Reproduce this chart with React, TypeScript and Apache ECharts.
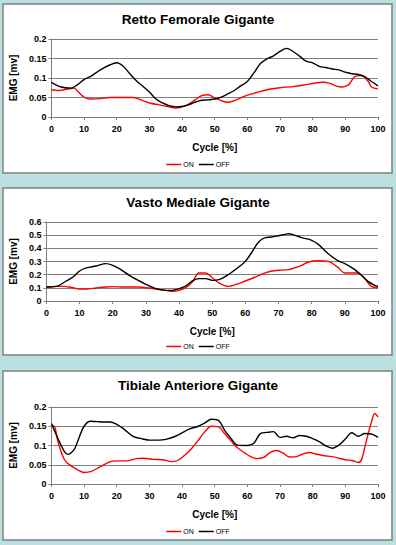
import React, { useEffect, useRef } from "react";
import * as echarts from "echarts";

const titles = ["Retto Femorale Gigante", "Vasto Mediale Gigante", "Tibiale Anteriore Gigante"];
const legendNames = ["ON", "OFF"];
const xTitle = "Cycle [%]";
const yTitle = "EMG [mv]";

// Retto Femorale
const rfOffX = [0, 3, 6, 8, 10, 12, 15, 18, 20, 22, 24, 26, 28, 30, 32, 34, 36, 38, 40, 42, 44, 46, 48, 50, 52, 54, 56, 58, 60, 62, 64, 66, 68, 70, 72, 74, 76, 78, 80, 82, 84, 86, 88, 90, 92, 94, 96, 98, 100];
const rfOffY = [0.089, 0.077, 0.074, 0.083, 0.096, 0.104, 0.121, 0.134, 0.139, 0.13, 0.111, 0.093, 0.079, 0.064, 0.046, 0.036, 0.029, 0.026, 0.027, 0.031, 0.038, 0.043, 0.044, 0.046, 0.051, 0.059, 0.068, 0.08, 0.091, 0.113, 0.137, 0.149, 0.157, 0.168, 0.176, 0.168, 0.156, 0.143, 0.139, 0.13, 0.127, 0.123, 0.121, 0.115, 0.111, 0.109, 0.103, 0.091, 0.08];
const rfOnX = [0, 2, 4, 6, 7, 8, 10, 12, 15, 18, 20, 22, 25, 28, 30, 33, 36, 38, 40, 42, 44, 46, 48, 50, 52, 54, 56, 58, 60, 63, 66, 70, 74, 78, 80, 83, 85, 87, 89, 91, 93, 95, 97, 98, 100];
const rfOnY = [0.07, 0.068, 0.07, 0.073, 0.074, 0.066, 0.051, 0.046, 0.047, 0.05, 0.05, 0.05, 0.05, 0.042, 0.036, 0.031, 0.026, 0.023, 0.026, 0.033, 0.044, 0.055, 0.057, 0.049, 0.042, 0.038, 0.042, 0.049, 0.056, 0.063, 0.07, 0.075, 0.078, 0.083, 0.086, 0.089, 0.087, 0.08, 0.077, 0.083, 0.104, 0.106, 0.091, 0.077, 0.072];

// Vasto Mediale
const vmOffX = [0, 3, 6, 8, 10, 12, 15, 18, 20, 22, 25, 28, 30, 33, 36, 38, 40, 42, 44, 46, 48, 50, 52, 55, 58, 60, 62, 64, 66, 68, 70, 72, 73, 75, 77, 80, 82, 85, 88, 90, 93, 95, 97, 99, 100];
const vmOffY = [0.106, 0.111, 0.152, 0.182, 0.228, 0.251, 0.266, 0.284, 0.271, 0.246, 0.195, 0.152, 0.127, 0.094, 0.081, 0.081, 0.094, 0.114, 0.152, 0.17, 0.17, 0.157, 0.162, 0.203, 0.258, 0.301, 0.372, 0.448, 0.481, 0.486, 0.496, 0.506, 0.511, 0.499, 0.481, 0.461, 0.43, 0.359, 0.304, 0.284, 0.238, 0.195, 0.149, 0.119, 0.111];
const vmOnX = [0, 3, 5, 8, 10, 12, 15, 18, 20, 23, 26, 28, 30, 33, 36, 38, 40, 42, 44, 46, 48, 50, 52, 55, 57, 60, 63, 66, 68, 70, 73, 75, 77, 79, 82, 85, 88, 90, 92, 94, 96, 98, 100];
const vmOnY = [0.106, 0.111, 0.111, 0.101, 0.091, 0.091, 0.099, 0.106, 0.109, 0.106, 0.106, 0.106, 0.101, 0.091, 0.081, 0.073, 0.081, 0.101, 0.144, 0.213, 0.213, 0.177, 0.137, 0.111, 0.124, 0.152, 0.182, 0.213, 0.228, 0.233, 0.238, 0.253, 0.271, 0.296, 0.306, 0.301, 0.253, 0.213, 0.213, 0.213, 0.17, 0.111, 0.101];

// Tibiale Anteriore
const taOffX = [0, 2, 4, 5, 7, 8, 10, 12, 14, 16, 18, 20, 22, 25, 28, 30, 33, 35, 38, 40, 42, 45, 47, 49, 51, 53, 55, 57, 60, 62, 64, 66, 68, 70, 72, 74, 76, 78, 80, 82, 84, 86, 88, 90, 92, 94, 96, 98, 100];
const taOffY = [0.157, 0.118, 0.084, 0.077, 0.09, 0.11, 0.15, 0.163, 0.162, 0.161, 0.161, 0.155, 0.144, 0.124, 0.117, 0.114, 0.114, 0.116, 0.124, 0.133, 0.142, 0.15, 0.159, 0.168, 0.166, 0.14, 0.118, 0.101, 0.1, 0.106, 0.131, 0.134, 0.136, 0.121, 0.124, 0.12, 0.126, 0.124, 0.118, 0.11, 0.099, 0.093, 0.101, 0.117, 0.133, 0.124, 0.131, 0.13, 0.121];
const taOnX = [0, 1, 2, 4, 6, 8, 10, 12, 15, 18, 20, 23, 26, 28, 31, 34, 37, 39, 41, 43, 45, 47, 49, 51, 53, 55, 57, 59, 61, 63, 65, 67, 69, 71, 73, 75, 77, 79, 81, 83, 86, 88, 90, 92, 94, 95, 96, 97, 98, 99, 100];
const taOnY = [0.153, 0.149, 0.11, 0.063, 0.047, 0.037, 0.03, 0.032, 0.045, 0.058, 0.06, 0.06, 0.066, 0.067, 0.064, 0.063, 0.058, 0.063, 0.076, 0.093, 0.114, 0.136, 0.15, 0.149, 0.131, 0.112, 0.094, 0.082, 0.071, 0.066, 0.069, 0.082, 0.087, 0.08, 0.07, 0.071, 0.078, 0.082, 0.078, 0.074, 0.071, 0.067, 0.063, 0.061, 0.056, 0.064, 0.097, 0.131, 0.161, 0.183, 0.174];

const yMaxes = [0.2, 0.6, 0.2];
const yIntervals = [0.05, 0.1, 0.05];

const zip = (xs: number[], ys: number[]) => xs.map((x, i) => [x, ys[i]]);

export default function App() {
  const ref = useRef<HTMLDivElement>(null);
  useEffect(() => {
    if (!ref.current) return;
    const chart = echarts.init(ref.current, null, { renderer: "svg" });
    const panels = [
      { y: 4, h: 169 },
      { y: 188, h: 167 },
      { y: 371, h: 169 },
    ];
    const grids = [
      { left: 46, right: 18, top: 39, height: 78 },
      { left: 41, right: 18, top: 222, height: 79 },
      { left: 45, right: 18, top: 407, height: 77 },
    ];
    const titleTops = [7, 190, 373];
    const legendTops = [156, 338, 523];
    const yNameGaps = [31, 26, 30];
    const data = [
      [zip(rfOnX, rfOnY), zip(rfOffX, rfOffY)],
      [zip(vmOnX, vmOnY), zip(vmOffX, vmOffY)],
      [zip(taOnX, taOnY), zip(taOffX, taOffY)],
    ];
    const font = "Liberation Sans, Arial, sans-serif";
    const series: any[] = [];
    data.forEach((pair, gi) => {
      pair.forEach((d, si) => {
        series.push({
          type: "line",
          name: legendNames[si],
          xAxisIndex: gi,
          yAxisIndex: gi,
          data: d,
          smooth: 0.35,
          showSymbol: false,
          symbol: "none",
          lineStyle: { color: si === 0 ? "#ff0000" : "#000000", width: 1.4 },
          itemStyle: { color: si === 0 ? "#ff0000" : "#000000" },
          z: si === 0 ? 3 : 4,
        });
      });
    });
    chart.setOption({
      animation: false,
      graphic: panels.map((p) => ({
        type: "rect",
        shape: { x: 3, y: p.y, width: 389, height: p.h },
        style: { fill: "#ffffff", stroke: "#808080", lineWidth: 1.5 },
        z: -10,
        silent: true,
      })),
      title: titles.map((t, i) => ({
        text: t,
        left: "center",
        top: titleTops[i],
        textStyle: { fontFamily: font, fontSize: 13.5, fontWeight: "bold", color: "#000" },
      })),
      legend: legendTops.map((top) => ({
        data: legendNames,
        top,
        left: "center",
        icon: "rect",
        itemWidth: 15,
        itemHeight: 1.5,
        itemGap: 5,
        textStyle: { fontFamily: font, fontSize: 7, color: "#000", padding: [0, 0, 0, -3] },
        selectedMode: false,
      })),
      grid: grids.map((g) => ({ ...g, containLabel: false })),
      xAxis: grids.map((_, i) => ({
        type: "value",
        gridIndex: i,
        min: 0,
        max: 100,
        interval: 10,
        name: xTitle,
        nameLocation: "middle",
        nameGap: 25,
        nameTextStyle: { fontFamily: font, fontSize: 10, fontWeight: "bold", color: "#000" },
        axisLine: { show: true, lineStyle: { color: "#808080", width: 1 } },
        axisTick: { show: true, length: 3, lineStyle: { color: "#808080" } },
        axisLabel: { fontFamily: font, fontSize: 9, fontWeight: "bold", color: "#000", margin: 7 },
        splitLine: { show: false },
      })),
      yAxis: grids.map((_, i) => ({
        type: "value",
        gridIndex: i,
        min: 0,
        max: yMaxes[i],
        interval: yIntervals[i],
        name: yTitle,
        nameLocation: "middle",
        nameGap: yNameGaps[i],
        nameTextStyle: { fontFamily: font, fontSize: 10, fontWeight: "bold", color: "#000" },
        axisLine: { show: true, lineStyle: { color: "#808080", width: 1 } },
        axisTick: { show: true, length: 3, lineStyle: { color: "#808080" } },
        axisLabel: { fontFamily: font, fontSize: 9, fontWeight: "bold", color: "#000", margin: 5 },
        splitLine: { show: true, lineStyle: { color: "#808080", width: 1 } },
      })),
      series,
    });
    return () => chart.dispose();
  }, []);
  return (
    <div
      ref={ref}
      style={{ position: "absolute", left: 0, top: 0, width: 396, height: 545, background: "#bae0e2" }}
    />
  );
}
